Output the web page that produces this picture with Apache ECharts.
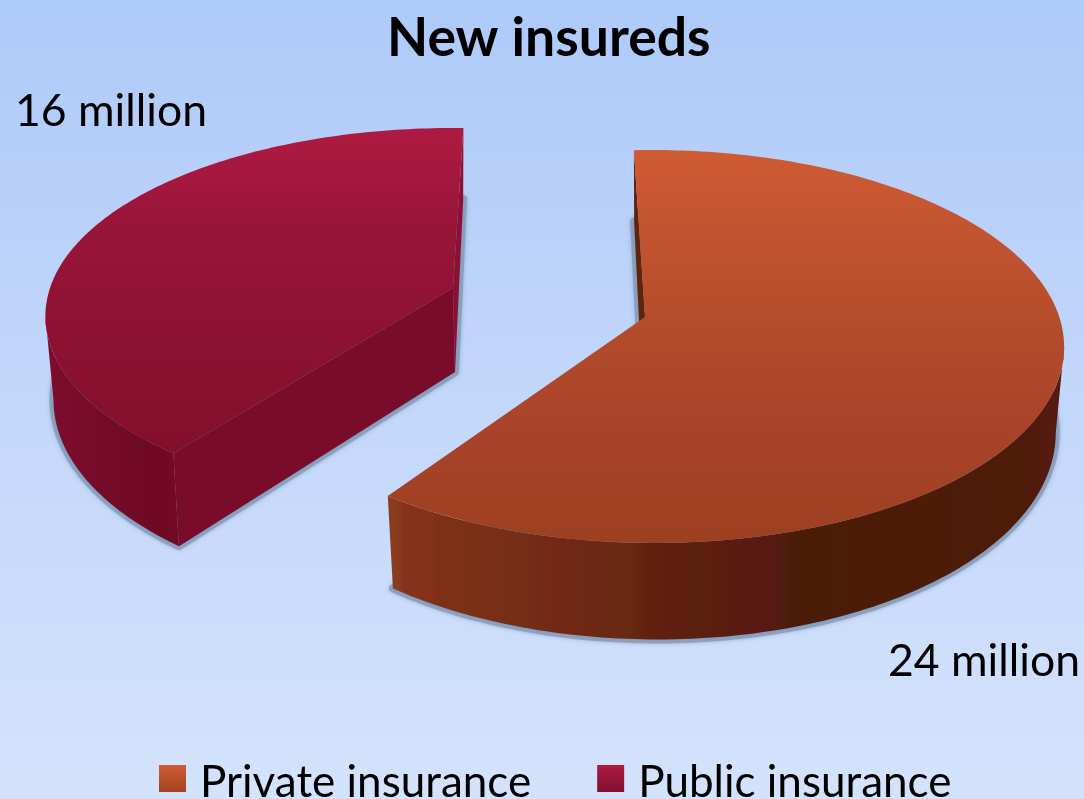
<!DOCTYPE html>
<html><head><meta charset="utf-8">
<style>html,body{margin:0;padding:0;overflow:hidden}#c{width:1084px;height:799px}</style>
<script src="https://cdn.jsdelivr.net/npm/echarts@6/dist/echarts.min.js"></script>
</head><body><div id="c"></div>
<script>
const titleText = 'New insureds';
const categories = ['Private insurance', 'Public insurance'];
const values = [24, 16];
const sliceLabels = ['24 million', '16 million'];
const unit = 360 / (values[0] + values[1]);

const FONT = 'Lato, "Open Sans", sans-serif';
const G = echarts.graphic.LinearGradient;
const vgrad = (y0, y1, stops) => new G(0, y0, 0, y1, stops.map((c, i) => ({offset: c[0], color: c[1]})), true);
const hgrad = (x0, x1, stops) => new G(x0, 0, x1, 0, stops.map(c => ({offset: (c[0] - x0) / (x1 - x0), color: c[1]})), true);

const geoms = [
  { ax: 645, ay: 317, a: 406, b: 192, k: 0.15, m: -0.02, H: 82, start: -1.8, footDx: -2,
    top: vgrad(150, 543, [[0,'#CF5B33'],[0.25,'#C05230'],[0.45,'#B44C2B'],[0.7,'#A9432A'],[1,'#9C4020']]),
    startWall: '#5E2410',
    wall: hgrad(385, 1063, [[385,'#8A3D1E'],[397,'#8A3D1E'],[405,'#85311C'],[432,'#85311A'],[436,'#7F3016'],[480,'#7A3016'],[520,'#762E17'],[560,'#722815'],[600,'#6C2816'],[628,'#682A10'],[650,'#621F0F'],[700,'#5A200E'],[735,'#5A1B10'],[775,'#561A14'],[790,'#4A1C08'],[1030,'#4E1B09'],[1045,'#551A10'],[1063,'#551A10']]),
    label: {x: 888, y: 662} },
  { ax: 453, ay: 288, a: 403, b: 184, k: 0.15, m: 0, H: 82, start: 217.7, footDx: 2,
    top: vgrad(128, 457, [[0,'#AD1A41'],[0.16,'#A4173F'],[0.27,'#99153A'],[0.55,'#901235'],[0.8,'#89102F'],[1,'#820F2C']]),
    startWall: '#780C2A', endWall: '#8C1035',
    wall: hgrad(45, 180, [[45,'#7E0C2E'],[85,'#780C2B'],[115,'#720B28'],[145,'#6E0A26'],[165,'#700A22'],[180,'#720A26']]),
    label: {x: 15, y: 112} }
];

function proj(g, deg, bottom) {
  const t = deg * Math.PI / 180, w = 1 + g.k * Math.cos(t) + g.m * Math.sin(t);
  const dx = g.a * Math.sin(t) / w, dy = -g.b * Math.cos(t) / w;
  return bottom ? [g.ax + dx * 0.98, g.ay + dy + g.H / w] : [g.ax + dx, g.ay + dy];
}
function arc(g, from, to, bottom) {
  const pts = [], n = Math.max(2, Math.ceil(Math.abs(to - from)));
  for (let i = 0; i <= n; i++) pts.push(proj(g, from + (to - from) * i / n, bottom));
  return pts;
}
const apexBottom = g => [g.ax + g.footDx, g.ay + g.H + 2];

function renderSlice(i) {
  return function (params, api) {
    const g = geoms[i], span = api.value(0) * unit, s = g.start, e = s + span;
    const kids = [];
    const poly = (points, fill, extra) => kids.push({type: 'polygon', silent: true, shape: {points}, style: Object.assign({fill}, extra || {})});
    const apex = [g.ax, g.ay];
    // soft ground shadow under the lower rim
    poly(arc(g, s, e, true).concat([apexBottom(g)]), '#7F95B3', {stroke: '#7F95B3', lineWidth: 8, lineJoin: 'round', opacity: 0.7, shadowBlur: 4, shadowColor: '#8CA2C0'});
    // the end-cut wall, where the slice has one
    if (g.endWall) poly([proj(g, e), proj(g, e, true), apexBottom(g), apex], g.endWall);
    // the start-cut wall
    poly([proj(g, s), proj(g, s, true), apexBottom(g), apex], g.startWall);
    // outer rim, only where it faces the viewer
    const lim = Math.acos(-g.k) * 180 / Math.PI;
    const lo = Math.max(s, lim), hi = Math.min(e, 360 - lim);
    poly(arc(g, lo, hi, false).concat(arc(g, hi, lo, true)), g.wall);
    // top face
    poly(arc(g, s, e, false).concat([apex]), g.top);
    kids.push({type: 'text', silent: true, style: {text: sliceLabels[i], x: g.label.x, y: g.label.y,
      verticalAlign: 'middle', align: 'left', fill: '#000', font: '44.5px ' + FONT}});
    return {type: 'group', children: kids};
  };
}

const chart = echarts.init(document.getElementById('c'));
chart.setOption({
  animation: false,
  backgroundColor: new G(0, 0, 0, 1, [{offset: 0, color: '#AECAF9'}, {offset: 0.5, color: '#C3D7FA'}, {offset: 1, color: '#D4E3FC'}]),
  title: {text: titleText, left: 387, top: 12, padding: 0, textStyle: {fontFamily: FONT, fontWeight: 'bold', fontSize: 53.5, color: '#000'}},
  legend: {
    data: categories, left: 159, top: 761, padding: 0, itemWidth: 27, itemHeight: 27, itemGap: 66, icon: 'rect',
    selectedMode: false,
    formatter: name => '{t|' + name + '}',
    textStyle: {fontFamily: FONT, fontSize: 44, color: '#000', padding: [0, 0, 0, 9],
      rich: {t: {fontFamily: FONT, fontSize: 44, color: '#000', padding: [9, 0, 0, 0]}}}
  },
  series: [
    {type: 'custom', name: categories[1], coordinateSystem: 'none', renderItem: renderSlice(1), data: [values[1]],
      itemStyle: {color: new G(0, 0, 0, 1, [{offset: 0, color: '#AD1A41'}, {offset: 1, color: '#820F30'}])}},
    {type: 'custom', name: categories[0], coordinateSystem: 'none', renderItem: renderSlice(0), data: [values[0]],
      itemStyle: {color: new G(0, 0, 0, 1, [{offset: 0, color: '#CF5B33'}, {offset: 1, color: '#A2431F'}])}}
  ]
});
</script></body></html>
